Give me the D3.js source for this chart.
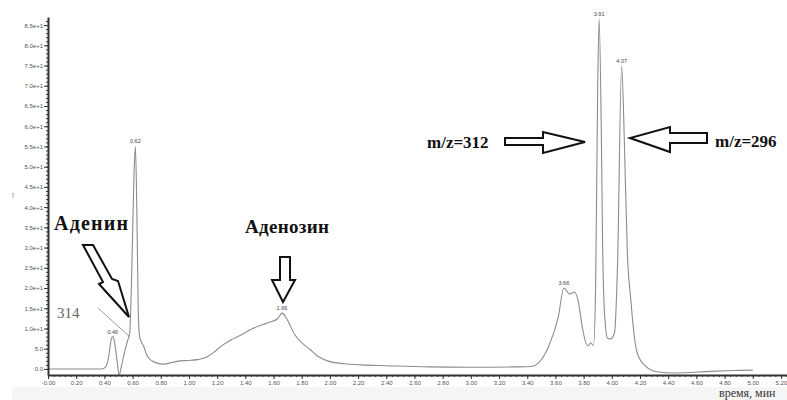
<!DOCTYPE html>
<html>
<head>
<meta charset="utf-8">
<script src="https://cdn.jsdelivr.net/npm/d3@7"></script>
<style>
  body { margin: 0; background: #fff; }
  svg { display: block; }
  .axis path, .axis line { stroke: #333; }
  .axis text { fill: #555; font-family: "Liberation Sans", Arial, sans-serif; font-size: 6px; }
  .note { font-family: "Liberation Serif", "DejaVu Serif", serif; font-weight: bold; fill: #111; }
</style>
</head>
<body>
<div id="chart"></div>
<script>
// Хроматограмма: время (мин) и интенсивность
const times = [0.00, 0.38, 0.41, 0.43, 0.45, 0.46, 0.47, 0.49, 0.505, 0.52, 0.545, 0.565, 0.58, 0.595, 0.61, 0.62, 0.63, 0.64, 0.65, 0.665, 0.68, 0.70, 0.73, 0.77, 0.82, 0.88, 0.94, 1.00, 1.06, 1.13, 1.18, 1.22, 1.30, 1.37, 1.46, 1.56, 1.63, 1.66, 1.70, 1.75, 1.80, 1.86, 1.92, 2.00, 2.10, 2.22, 2.40, 2.70, 3.00, 3.30, 3.43, 3.48, 3.55, 3.62, 3.66, 3.70, 3.735, 3.76, 3.79, 3.815, 3.83, 3.85, 3.87, 3.885, 3.90, 3.91, 3.925, 3.935, 3.95, 3.97, 3.99, 4.02, 4.04, 4.07, 4.09, 4.11, 4.135, 4.16, 4.18, 4.23, 4.32, 4.45, 4.70, 4.85, 5.00];
const intensity = [0, 0, 0.5, 3, 7.5, 8, 7, 2, -1.5, 0.5, 4.5, 7, 9, 25, 48, 55, 40, 15, 8, 6.5, 5.5, 3.5, 2.2, 1.5, 1.2, 1.6, 2.0, 2.1, 2.3, 3.0, 4.2, 5.4, 7.2, 8.4, 10.1, 11.4, 12.4, 13.8, 12.0, 8.5, 6.5, 4.8, 3.0, 1.8, 1.3, 1.0, 0.8, 0.5, 0.4, 0.5, 0.6, 1.5, 5.4, 12.8, 20, 18.5, 19, 17, 10.5, 6.5, 5.7, 6.4, 5.8, 20, 70, 86.5, 60, 30, 12.8, 7.6, 7.4, 9, 25, 75, 55, 29, 17, 7.9, 4, 1, -0.7, -1, -0.6, -0.4, -0.3];

// Подписи пиков
const peakTimes = [0.46, 0.62, 1.66, 3.66, 3.91, 4.07];
const peakValues = [8, 55, 13.8, 20, 86.5, 75];
const peakLabels = ["0.46", "0.62", "1.66", "3.66", "3.91", "4.07"];

// Деления осей
const xTicks = d3.range(0, 5.201, 0.2);
const yTicks = d3.range(0, 85.01, 5);

const data = times.map((t, i) => ({ t: t, v: intensity[i] }));

const width = 787, height = 400;

const svg = d3.select("#chart")
    .append("svg")
    .attr("width", width)
    .attr("height", height);

// Шкалы
const x = d3.scaleLinear().domain([0, 5.25]).range([48, 788]);
const y = d3.scaleLinear().domain([-1.5, 87]).range([375, 17]);

// Светлая полоса под осью
svg.append("rect")
    .attr("x", 12).attr("y", 387)
    .attr("width", width - 12).attr("height", 13)
    .attr("fill", "#f5f5f5");

// Кривая
const line = d3.line()
    .x(d => x(d.t))
    .y(d => y(d.v))
    .curve(d3.curveMonotoneX);

svg.append("path")
    .datum(data)
    .attr("fill", "none")
    .attr("stroke", "#8c8c8c")
    .attr("stroke-width", 1.1)
    .attr("d", line);

// Малые деления
svg.append("g")
    .attr("class", "axis")
    .attr("transform", `translate(48,0)`)
    .call(d3.axisLeft(y).tickValues(d3.range(0, 87, 1)).tickSize(2).tickSizeOuter(0).tickFormat(""))
    .select(".domain").remove();

svg.append("g")
    .attr("class", "axis")
    .attr("transform", `translate(0,375)`)
    .call(d3.axisBottom(x).tickValues(d3.range(0, 5.25, 0.04)).tickSize(2).tickSizeOuter(0).tickFormat(""))
    .select(".domain").remove();

// Оси
const yAxis = svg.append("g")
    .attr("class", "axis")
    .attr("transform", `translate(48,0)`)
    .call(d3.axisLeft(y)
        .tickValues(yTicks)
        .tickSize(4)
        .tickSizeOuter(0)
        .tickPadding(1)
        .tickFormat(v => v < 10 ? v.toFixed(1) : (v / 10).toFixed(1) + "e+1"));
yAxis.select(".domain").attr("stroke-width", 2);

const xAxis = svg.append("g")
    .attr("class", "axis")
    .attr("transform", `translate(0,375)`)
    .call(d3.axisBottom(x)
        .tickValues(xTicks)
        .tickSize(4)
        .tickSizeOuter(0)
        .tickPadding(2)
        .tickFormat(v => v === 0 ? "-0.00" : v.toFixed(2)));
xAxis.select(".domain").attr("stroke-width", 2);

// Подписи пиков
svg.selectAll(".peak")
    .data(peakTimes)
    .enter()
    .append("text")
    .attr("class", "peak")
    .attr("x", d => x(d))
    .attr("y", (d, i) => y(peakValues[i]) - 3)
    .attr("text-anchor", "middle")
    .attr("font-family", "Liberation Sans, Arial, sans-serif")
    .attr("font-size", "5.5px")
    .attr("fill", "#444")
    .text((d, i) => peakLabels[i]);

// Метка слева
svg.append("text")
    .attr("x", 12).attr("y", 198)
    .attr("font-family", "Liberation Sans, Arial, sans-serif")
    .attr("font-size", "7px")
    .attr("fill", "#666")
    .text("!");

// Линия 314
svg.append("line")
    .attr("x1", 98).attr("y1", 308)
    .attr("x2", 130).attr("y2", 337)
    .attr("stroke", "#999")
    .attr("stroke-width", 1);

svg.append("text")
    .attr("x", 57).attr("y", 318)
    .attr("font-family", "Liberation Serif, serif")
    .attr("font-size", "15px")
    .attr("fill", "#666")
    .text("314");

// Подписи веществ
svg.append("text").attr("class", "note")
    .attr("x", 54).attr("y", 230).attr("font-size", "20px")
    .attr("textLength", 74)
    .text("Аденин");

svg.append("text").attr("class", "note")
    .attr("x", 245).attr("y", 233).attr("font-size", "19px")
    .attr("textLength", 84)
    .text("Аденозин");

svg.append("text").attr("class", "note")
    .attr("x", 427).attr("y", 148).attr("font-size", "17px")
    .text("m/z=312");

svg.append("text").attr("class", "note")
    .attr("x", 715).attr("y", 147).attr("font-size", "17px")
    .text("m/z=296");

// Стрелки
const arrows = [
    [[83, 245], [93, 245], [112, 279], [118, 281], [129, 317], [99, 284], [103, 282]],
    [[280, 257], [290, 257], [290, 280], [295, 280], [283, 302], [272, 280], [280, 280]],
    [[505, 138], [543, 138], [543, 132], [585, 142], [543, 153], [543, 145], [505, 145]],
    [[707, 133], [670, 133], [670, 127], [630, 138], [670, 152], [670, 143], [707, 143]]
];

svg.selectAll(".arrow")
    .data(arrows)
    .enter()
    .append("path")
    .attr("class", "arrow")
    .attr("d", d => d3.line()(d) + "Z")
    .attr("fill", "#fff")
    .attr("stroke", "#111")
    .attr("stroke-width", 2)
    .attr("stroke-linejoin", "miter");

// Подпись оси X
svg.append("text")
    .attr("x", 719).attr("y", 397)
    .attr("font-family", "Liberation Serif, serif")
    .attr("font-size", "12px")
    .attr("fill", "#333")
    .text("время, мин");
</script>
</body>
</html>
